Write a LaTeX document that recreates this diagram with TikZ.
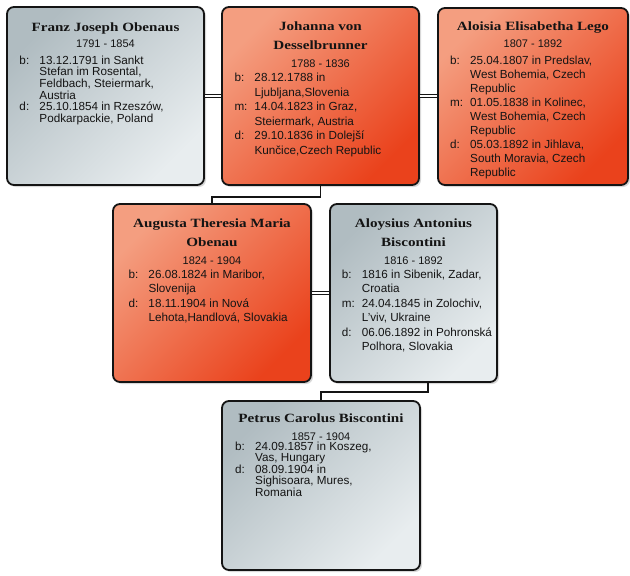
\documentclass[tikz,border=0pt]{standalone}
\usepackage{fontspec}
\setmainfont{Liberation Sans}
\newfontfamily\namefont[FakeStretch=1.2]{Liberation Serif}
\usetikzlibrary{calc,shadows}
\definecolor{ink}{RGB}{20,20,20}
\definecolor{greyA}{RGB}{176,188,193}
\definecolor{greyB}{RGB}{232,237,239}
\definecolor{orA}{RGB}{244,158,128}
\definecolor{orB}{RGB}{234,66,28}
\newcommand\pname[1]{\parbox[t]{200pt}{\centering\namefont\bfseries\fontsize{12.6}{18.7}\selectfont #1}}
\newcommand\E[2]{\makebox[20pt][l]{#1}#2}
\newcommand\C[1]{\hspace*{20pt}#1}
\newcommand\pdet[2]{\parbox[t]{200pt}{\fontsize{11.7}{#1}\selectfont #2}}
\begin{document}
\begin{tikzpicture}[x=1pt,y=-1pt,
  box/.style={rectangle, rounded corners=7pt, draw=ink, line width=1.8pt, inner sep=0pt,
    drop shadow={opacity=0.3, shadow xshift=2pt, shadow yshift=-2pt}},
  greybox/.style={box, top color=greyA, bottom color=greyB, shading angle=45},
  orbox/.style={box, top color=orA, bottom color=orB, shading angle=45},
  nm/.style={anchor=base, inner sep=0pt, text=ink},
  yr/.style={anchor=base, inner sep=0pt, text=ink, font=\fontsize{11}{13}\selectfont},
  det/.style={anchor=base west, inner sep=0pt, text=ink},
  link/.style={draw=ink, line width=1.9pt},
  wed/.style={draw=ink, line width=1.6pt, double=white, double distance=1.5pt}]
\useasboundingbox[fill=white] (0,0) rectangle (630,576);

% boxes
\node[greybox, minimum width=197pt, minimum height=178pt] (franz) at (105.5,96) {};
\node[orbox, minimum width=197pt, minimum height=178pt] (johanna) at (320.5,96) {};
\node[orbox, minimum width=190pt, minimum height=177pt] (aloisia) at (533,96.5) {};
\node[orbox, minimum width=198pt, minimum height=178pt] (augusta) at (212,293) {};
\node[greybox, minimum width=167pt, minimum height=178pt] (aloysius) at (413.5,293) {};
\node[greybox, minimum width=198pt, minimum height=169pt] (petrus) at (321,485.5) {};

% connectors
\draw[wed] (franz.east) -- (johanna.west);
\draw[wed] (johanna.east) -- (johanna.east -| aloisia.west);
\draw[wed] (augusta.east) -- (aloysius.west);
\draw[link] (johanna.south) -- ++(0,11) -| (augusta.north);
\draw[link] ([xshift=14.5pt]aloysius.south) -- ++(0,9) -| (petrus.north);

% Franz
\node[nm] (franz-name) at (105.5,31) {\pname{Franz Joseph Obenaus}};
\node[yr] (franz-year) at (105.5,47) {1791 - 1854};
\node[det] (franz-det) at (19.3,64) {\pdet{11.7}{\E{b:}{13.12.1791 in Sankt}\\\C{Stefan im Rosental,}\\\C{Feldbach, Steiermark,}\\\C{Austria}\\\E{d:}{25.10.1854 in Rzeszów,}\\\C{Podkarpackie, Poland}}};

% Johanna
\node[nm] (johanna-name) at (320.5,30.7) {\pname{Johanna von\\Desselbrunner}};
\node[yr] (johanna-year) at (320.5,67.3) {1788 - 1836};
\node[det] (johanna-det) at (234.3,81.7) {\pdet{14.5}{\E{b:}{28.12.1788 in}\\\C{Ljubljana,Slovenia}\\\E{m:}{14.04.1823 in Graz,}\\\C{Steiermark, Austria}\\\E{d:}{29.10.1836 in Dolejší}\\\C{Kunčice,Czech Republic}}};

% Aloisia
\node[nm] (aloisia-name) at (533,30.7) {\pname{Aloisia Elisabetha Lego}};
\node[yr] (aloisia-year) at (533,47.3) {1807 - 1892};
\node[det] (aloisia-det) at (450,64) {\pdet{14.1}{\E{b:}{25.04.1807 in Predslav,}\\\C{West Bohemia, Czech}\\\C{Republic}\\\E{m:}{01.05.1838 in Kolinec,}\\\C{West Bohemia, Czech}\\\C{Republic}\\\E{d:}{05.03.1892 in Jihlava,}\\\C{South Moravia, Czech}\\\C{Republic}}};

% Augusta
\node[nm] (augusta-name) at (212,227.3) {\pname{Augusta Theresia Maria\\Obenau}};
\node[yr] (augusta-year) at (212,264) {1824 - 1904};
\node[det] (augusta-det) at (128.3,278.3) {\pdet{14.4}{\E{b:}{26.08.1824 in Maribor,}\\\C{Slovenija}\\\E{d:}{18.11.1904 in Nová}\\\C{Lehota,Handlová, Slovakia}}};

% Aloysius
\node[nm] (aloysius-name) at (413.5,227.3) {\pname{Aloysius Antonius\\Biscontini}};
\node[yr] (aloysius-year) at (413.5,264) {1816 - 1892};
\node[det] (aloysius-det) at (341.7,278.3) {\pdet{14.5}{\E{b:}{1816 in Sibenik, Zadar,}\\\C{Croatia}\\\E{m:}{24.04.1845 in Zolochiv,}\\\C{L'viv, Ukraine}\\\E{d:}{06.06.1892 in Pohronská}\\\C{Polhora, Slovakia}}};

% Petrus
\node[nm] (petrus-name) at (321,422.3) {\pname{Petrus Carolus Biscontini}};
\node[yr] (petrus-year) at (321,440) {1857 - 1904};
\node[det] (petrus-det) at (235,450.7) {\pdet{10.8}{\E{b:}{24.09.1857 in Koszeg,}\\\C{Vas, Hungary}\\\E{d:}{08.09.1904 in}\\\C{Sighisoara, Mures,}\\\C{Romania}}};
\end{tikzpicture}
\end{document}
